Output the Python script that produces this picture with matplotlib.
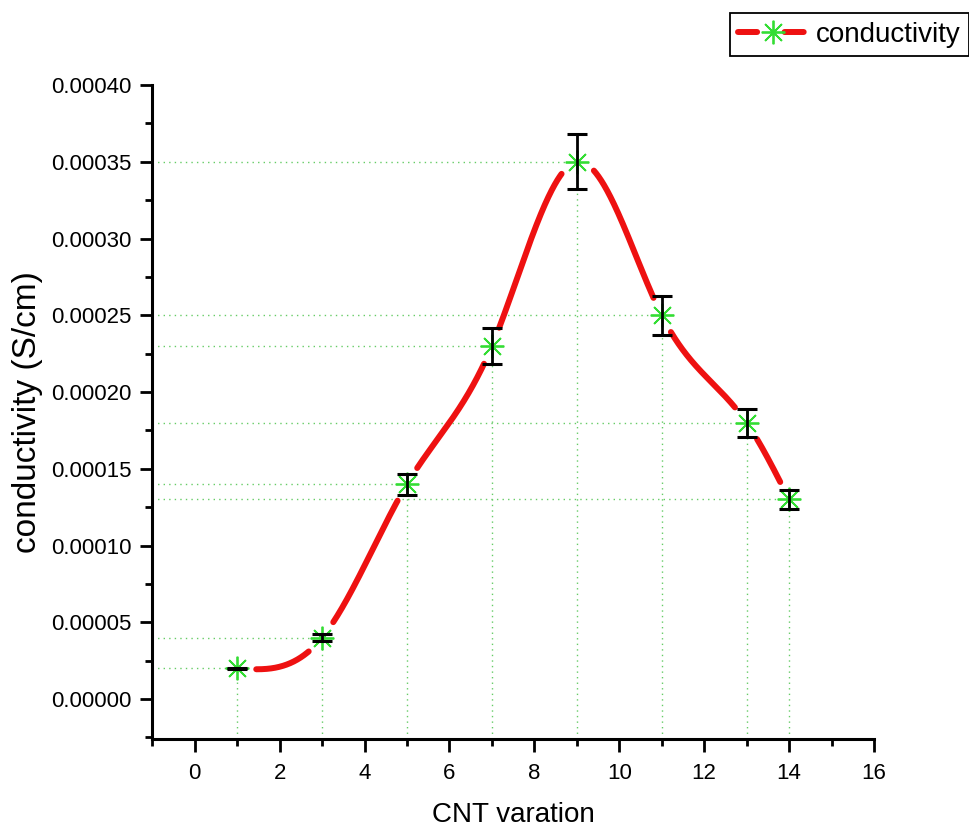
import numpy as np
import matplotlib
matplotlib.use("Agg")
import matplotlib.pyplot as plt
from matplotlib.lines import Line2D
from matplotlib.ticker import MultipleLocator, FormatStrFormatter

plt.rcParams["font.family"] = ["Liberation Sans", "DejaVu Sans"]

# measured data
cnt = [1, 3, 5, 7, 9, 11, 13, 14]
conductivity = [0.00002, 0.00004, 0.00014, 0.00023, 0.00035, 0.00025, 0.00018, 0.00013]
error = [0.0000005, 0.0000025, 0.0000068, 0.0000115, 0.0000180, 0.0000128, 0.0000092, 0.0000065]

x_ticks = [0, 2, 4, 6, 8, 10, 12, 14, 16]
y_ticks = [0.0, 0.00005, 0.00010, 0.00015, 0.00020, 0.00025, 0.00030, 0.00035, 0.00040]

RED = "#ee1111"
GREEN = "#33dd33"
DROP = "#66cc66"
STAR = (8, 2, 0)


def natural_spline(x, y, xs):
    x = np.asarray(x, float)
    y = np.asarray(y, float)
    n = len(x)
    h = np.diff(x)
    A = np.zeros((n, n))
    b = np.zeros(n)
    A[0, 0] = 1.0
    A[-1, -1] = 1.0
    for i in range(1, n - 1):
        A[i, i - 1] = h[i - 1]
        A[i, i] = 2 * (h[i - 1] + h[i])
        A[i, i + 1] = h[i]
        b[i] = 6 * ((y[i + 1] - y[i]) / h[i] - (y[i] - y[i - 1]) / h[i - 1])
    M = np.linalg.solve(A, b)
    idx = np.clip(np.searchsorted(x, xs) - 1, 0, n - 2)
    x0, x1 = x[idx], x[idx + 1]
    y0, y1 = y[idx], y[idx + 1]
    m0, m1 = M[idx], M[idx + 1]
    hh = x1 - x0
    return (m0 * (x1 - xs) ** 3 / (6 * hh) + m1 * (xs - x0) ** 3 / (6 * hh)
            + (y0 / hh - m0 * hh / 6) * (x1 - xs)
            + (y1 / hh - m1 * hh / 6) * (xs - x0))


fig = plt.figure(figsize=(9.7, 8.34), dpi=100)
ax = fig.add_axes([0.157, 0.114, 0.744, 0.784])

xmin, xmax = -1, 16
ymin, ymax = -0.000026, 0.0004
ax.set_xlim(xmin, xmax)
ax.set_ylim(ymin, ymax)

# dotted drop lines to both axes
for xv, yv in zip(cnt, conductivity):
    ax.plot([xmin, xv], [yv, yv], color=DROP, lw=1.0, ls=(0, (1, 3)), zorder=1)
    ax.plot([xv, xv], [ymin, yv], color=DROP, lw=1.0, ls=(0, (1, 3)), zorder=1)

# smooth connecting curve with gaps around each symbol
xs = np.linspace(cnt[0], cnt[-1], 2000)
ys = natural_spline(cnt, conductivity, xs)
disp = ax.transData.transform(np.column_stack([xs, ys]))
mk = ax.transData.transform(np.column_stack([cnt, conductivity]))
dist = np.min(np.hypot(disp[:, None, 0] - mk[None, :, 0],
                       disp[:, None, 1] - mk[None, :, 1]), axis=1)
gap_px = 19
ys_masked = np.where(dist < gap_px, np.nan, ys)
ax.plot(xs, ys_masked, color=RED, lw=4.3, solid_capstyle="round", zorder=2)

ax.plot(cnt, conductivity, ls="none", marker=STAR, ms=17, mec=GREEN,
        mfc=GREEN, mew=1.3, zorder=3)
ax.errorbar(cnt, conductivity, yerr=error, fmt="none", ecolor="black",
            elinewidth=2.0, capsize=7, capthick=2.2, zorder=4)

# axes styling
for side in ("top", "right"):
    ax.spines[side].set_visible(False)
for side in ("left", "bottom"):
    ax.spines[side].set_linewidth(2.2)

ax.set_xticks(x_ticks)
ax.set_yticks(y_ticks)
ax.xaxis.set_minor_locator(MultipleLocator(1))
ax.yaxis.set_minor_locator(MultipleLocator(0.000025))
ax.yaxis.set_major_formatter(FormatStrFormatter("%.5f"))
ax.tick_params(which="major", direction="out", length=9, width=2.0,
               labelsize=16, pad=6)
ax.tick_params(axis="x", which="major", pad=8)
ax.tick_params(which="minor", direction="out", length=5, width=2.0)

ax.set_xlabel("CNT varation", fontsize=20, labelpad=13)
ax.set_ylabel("conductivity (S/cm)", fontsize=24, labelpad=6)

# legend
line_part = Line2D([], [], color=RED, lw=4.3, solid_capstyle="round",
                   dash_capstyle="round", ls=(0, (3.2, 4.6)))
star_part = Line2D([], [], ls="none", marker=STAR, ms=17, mec=GREEN, mew=1.3)
fig.legend([(line_part, star_part)], ["conductivity"], loc="upper right",
           bbox_to_anchor=(0.999, 0.984), fontsize=20, frameon=True,
           fancybox=False, edgecolor="black", framealpha=1,
           handlelength=2.5, handletextpad=0.3, borderpad=0.3,
           borderaxespad=0.0)
fig.legends[0].get_frame().set_linewidth(1.3)

fig.savefig("out.png", dpi=100)
